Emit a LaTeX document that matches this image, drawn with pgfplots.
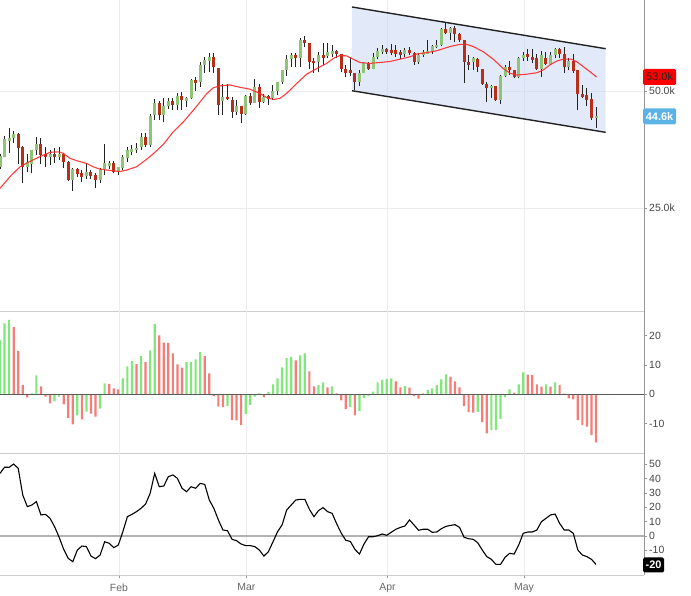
\documentclass[border=0pt]{standalone}
\usepackage{pgfplots}
\pgfplotsset{compat=1.18}
\usepackage{pgfplotstable}
\usepackage{fontspec}
\setmainfont{Liberation Sans}
\definecolor{cgreen}{RGB}{143,196,118}
\definecolor{cred}{RGB}{185,45,25}
\definecolor{wick}{RGB}{34,34,34}
\definecolor{hgreen}{RGB}{128,232,122}
\definecolor{hred}{RGB}{246,124,120}
\definecolor{gridc}{RGB}{236,236,236}
\definecolor{sepc}{RGB}{204,204,204}
\definecolor{raxis}{RGB}{150,150,150}
\definecolor{tlabel}{RGB}{68,68,68}
\definecolor{chan}{RGB}{198,214,244}
\definecolor{tagblue}{RGB}{91,178,228}
\definecolor{mared}{RGB}{255,40,40}

\pgfplotstableread{
i o h l c
0 33.8 36.5 33.4 36.2
1 36.0 40.4 35.8 39.7
2 39.4 42.2 36.7 40.0
3 39.9 41.5 38.8 40.9
6 33.8 36.5 32.6 34.8
7 34.5 37.4 32.4 37.3
8 37.3 40.1 36.3 38.7
11 36.0 37.3 34.2 36.6
13 36.0 38.0 35.2 36.6
16 31.0 33.6 28.7 33.3
19 31.8 34.7 31.3 32.7
22 31.0 33.6 30.3 33.3
23 33.3 38.6 32.0 34.6
24 34.0 35.0 33.3 34.6
26 32.6 33.8 32.0 33.7
27 33.6 36.3 33.2 35.8
28 35.6 38.0 34.9 37.4
29 36.9 38.5 36.3 37.6
30 37.3 38.8 36.8 37.9
31 38.1 41.0 37.4 40.2
33 38.5 45.0 38.0 44.7
34 44.9 48.3 43.8 47.4
36 44.9 48.4 43.3 46.9
37 46.8 48.5 46.2 47.9
39 47.0 49.5 45.9 48.9
41 47.9 48.8 46.5 48.5
42 48.6 52.6 48.3 52.4
44 52.0 56.3 50.9 55.6
45 55.6 57.3 53.8 56.6
46 56.5 58.2 54.0 57.3
49 47.9 51.6 44.9 48.7
52 45.6 48.1 44.9 46.8
54 45.1 49.1 44.9 48.9
56 47.5 52.5 47.4 50.8
58 47.7 49.3 47.4 48.8
60 48.4 51.3 48.1 50.1
61 50.1 52.0 49.1 52.0
62 52.0 54.5 51.6 54.4
63 54.4 57.7 53.1 56.8
64 56.8 58.1 55.2 57.7
66 57.0 61.3 55.2 61.0
70 56.3 58.4 54.1 57.7
72 57.5 60.2 57.0 58.4
73 57.8 59.8 57.3 58.6
79 52.0 54.5 51.1 53.9
80 53.9 56.3 53.8 55.9
82 54.8 58.2 54.6 57.2
83 57.2 59.1 56.8 58.6
84 58.4 59.8 58.0 59.0
89 57.9 59.1 57.2 58.8
92 56.3 58.1 55.8 57.7
93 57.7 58.8 57.3 58.4
94 58.0 60.9 57.9 58.6
95 58.5 59.8 58.0 59.6
96 59.3 61.0 59.1 59.8
97 59.8 63.4 59.6 63.2
99 62.3 63.6 60.9 63.5
104 56.3 57.3 54.5 57.0
108 50.6 51.3 48.6 51.1
110 48.1 53.4 47.2 53.2
111 53.2 55.6 52.9 55.2
114 52.9 57.3 52.7 57.0
115 57.0 58.4 56.5 57.7
119 54.8 58.6 52.9 57.7
121 55.8 58.4 55.6 57.7
122 57.7 59.1 57.0 58.9
125 55.2 57.0 54.4 56.4
131 44.2 46.5 42.2 44.6
}\upc

\pgfplotstableread{
i o h l c
4 40.9 41.0 34.5 37.9
5 38.1 38.2 30.3 33.8
9 38.7 40.0 34.5 36.3
10 36.5 38.0 33.8 35.8
12 36.6 37.8 34.7 36.0
14 36.5 36.8 33.5 34.9
15 34.9 35.0 30.8 31.0
17 33.3 33.6 31.7 32.3
18 32.4 33.1 30.6 31.7
20 32.7 33.1 31.1 31.8
21 32.1 32.4 29.2 31.0
25 34.6 35.0 32.4 32.6
32 40.2 41.0 38.0 38.5
35 47.4 47.8 43.8 44.9
38 47.9 48.6 45.9 47.0
40 48.9 49.8 45.9 48.1
43 52.4 53.0 50.1 51.8
47 57.2 58.1 53.8 55.1
48 54.9 54.9 44.9 47.0
50 48.7 51.6 48.0 48.2
51 48.1 48.8 44.2 45.6
53 46.8 46.8 43.1 45.1
55 48.9 49.5 47.0 47.5
57 50.8 51.6 46.3 47.7
59 48.9 49.1 47.0 48.2
65 57.7 58.1 55.2 57.0
67 61.0 61.8 59.3 60.2
68 60.2 60.2 54.6 56.3
69 56.5 57.0 53.8 55.9
71 57.7 60.2 55.5 57.0
74 58.6 58.8 57.0 57.8
75 57.8 57.8 54.1 54.6
76 54.6 55.5 52.9 53.9
77 54.5 57.0 53.1 53.9
78 53.9 53.9 50.2 52.0
81 55.9 56.3 54.5 54.7
85 59.0 59.1 58.0 58.4
86 58.8 60.0 57.7 58.1
87 58.8 59.8 57.3 57.9
88 58.3 58.8 56.8 57.7
90 58.8 59.5 57.7 58.2
91 58.2 58.4 55.6 56.3
98 63.2 64.6 62.1 62.3
100 63.5 63.8 60.5 62.1
101 62.1 62.3 60.5 60.8
102 60.9 60.9 51.8 56.3
103 56.3 57.7 54.5 55.6
105 56.8 57.0 54.1 55.2
106 54.8 54.8 51.3 51.6
107 51.5 52.0 47.7 50.6
109 51.1 51.1 47.9 48.1
112 55.2 56.4 53.4 54.4
113 54.5 54.5 52.7 52.9
116 57.9 58.9 56.5 57.2
117 57.2 58.9 55.9 56.6
118 57.0 57.9 54.5 54.8
120 57.0 58.4 55.6 55.8
123 58.9 59.1 57.0 58.0
124 58.0 59.5 53.8 55.2
126 56.4 57.8 53.9 54.3
127 54.5 54.5 45.9 49.3
128 49.4 51.3 48.4 48.8
129 49.2 50.6 46.8 48.1
130 48.2 49.6 43.9 44.2
}\dnc

\pgfplotstableread{
x y
0 29.2
2.2 31.7
4.4 33.8
5.5 34.4
7.3 35.3
9.5 36.3
11.0 36.9
12.8 37.0
13.9 36.7
15.4 35.6
16.9 35.1
19.1 34.5
20.5 33.8
22.0 33.3
23.5 33.1
25.3 32.9
26.4 32.8
27.8 33.1
30.0 33.8
32.2 35.4
33.7 36.6
35.9 38.6
38.1 41.3
40.3 43.4
42.5 45.9
44.0 47.7
45.4 49.4
46.9 50.7
48.4 51.1
50.5 51.3
52.7 50.8
54.9 50.4
57.1 49.5
58.6 48.6
60.1 48.2
61.5 48.4
63.0 49.5
65.2 51.6
67.4 53.6
69.6 54.8
71.8 55.9
73.3 57.0
74.7 57.6
76.2 57.5
77.6 56.8
79.1 56.1
81.3 55.9
83.5 56.1
85.7 56.3
87.9 56.8
90.1 57.3
91.6 57.9
93.8 58.2
96.0 58.6
98.9 59.5
101.1 59.97
102.6 59.97
104.0 59.5
106.2 58.4
108.4 56.8
110.6 54.8
112.1 53.8
113.6 53.4
115.8 53.6
118.0 53.9
119.4 54.5
120.9 55.6
122.4 56.4
123.8 56.8
125.6 56.8
126.7 56.3
128.2 55.2
129.7 54.1
131.1 53.0
}\ma

\pgfplotstableread{
i v
0 18.5
1 24.2
2 25.4
7 0.3
8 6.5
12 -2.4
13 -0.8
17 -7.2
19 -5.9
22 -4.9
23 3.7
27 5.4
28 9.5
29 11.3
31 13.0
33 15.0
34 24.0
41 11.0
42 11.1
43 11.9
44 14.4
50 -4.0
54 -6.7
55 -3.6
56 -0.8
57 0.3
59 0.8
60 3.4
61 5.4
62 9.2
63 12.3
64 12.8
66 13.3
67 14.0
70 3.1
71 4.1
73 2.7
77 -4.3
79 -5.7
80 -1.3
81 -0.5
82 0.9
83 4.1
84 4.9
85 5.3
86 5.4
89 2.8
93 0.3
94 1.5
95 2.0
96 3.1
97 5.1
98 6.8
105 -6.0
108 -12.2
109 -12.1
110 -8.4
111 -1.0
112 1.7
114 3.4
115 7.5
120 3.4
122 4.1
}\hup

\pgfplotstableread{
i v
3 22.9
4 14.8
5 3.1
6 -1.0
9 2.7
10 -0.8
11 -3.1
14 -3.4
15 -8.0
16 -10.2
18 -8.5
20 -6.6
21 -7.6
24 3.6
25 2.0
26 1.7
30 10.3
32 11.0
35 20.1
36 17.6
37 17.5
38 14.0
39 10.2
40 9.1
45 13.0
46 7.1
47 -0.6
48 -4.2
49 -4.4
51 -8.8
52 -8.9
53 -10.5
58 -1.0
65 11.6
68 7.8
69 2.7
72 2.4
74 0.3
75 -2.1
76 -5.0
78 -7.2
87 4.4
88 2.4
90 2.3
91 -0.6
92 -1.5
99 6.0
100 4.4
101 2.4
102 -4.0
103 -6.1
104 -6.2
106 -9.5
107 -13.3
113 0.6
116 6.7
117 6.6
118 3.4
119 2.6
121 2.6
123 3.1
124 0.2
125 -1.4
126 -1.7
127 -8.8
128 -10.5
129 -11.0
130 -13.9
131 -16.4
}\hdn

\pgfplotstableread{
i v
0 43.7
1 48.0
2 47.9
3 50.2
4 47.2
5 28.6
6 20.5
7 21.6
8 24.0
9 14.7
10 15.1
11 12.3
12 6.5
13 -0.9
14 -9.3
15 -15.6
16 -17.9
17 -9.8
18 -7.0
19 -7.4
20 -14.0
21 -15.8
22 -13.3
23 -4.0
24 -5.1
25 -8.1
26 -6.3
27 3.0
28 13.5
29 15.1
30 17.0
31 19.3
32 22.3
33 29.8
34 43.7
35 34.4
36 34.9
37 41.4
38 42.6
39 40.2
40 33.3
41 30.9
42 34.4
43 33.3
44 36.7
45 36.0
46 25.1
47 19.3
48 11.2
49 4.2
50 3.7
51 -2.3
52 -3.3
53 -5.6
54 -6.7
55 -6.7
56 -7.4
57 -9.8
58 -14.0
59 -10.9
60 -4.0
61 3.0
62 7.7
63 18.1
64 21.6
65 25.1
66 25.6
67 25.6
68 18.6
69 13.5
70 17.7
71 19.8
72 17.0
73 15.8
74 8.5
75 2.0
76 -3.0
77 -3.8
78 -9.3
79 -12.6
80 -5.6
81 -0.5
82 -0.5
83 0.2
84 1.4
85 0.5
86 2.6
87 4.7
88 6.0
89 7.0
90 11.2
91 7.7
92 4.0
93 4.7
94 4.7
95 2.6
96 2.8
97 5.1
98 6.7
99 7.4
100 7.9
101 6.0
102 -0.9
103 -1.9
104 -2.3
105 -4.7
106 -9.8
107 -14.4
108 -16.3
109 -19.8
110 -19.8
111 -14.9
112 -12.1
113 -12.6
114 -6.3
115 1.9
116 2.8
117 2.8
118 4.2
119 10.0
120 12.3
121 14.7
122 15.3
123 8.8
124 4.2
125 4.2
126 1.9
127 -9.8
128 -13.3
129 -14.4
130 -16.3
131 -19.8
}\osc

\tikzset{
  tag/.style={font=\fontsize{11}{12}\selectfont, inner xsep=2bp, inner ysep=0bp,
    minimum height=16bp, anchor=west, rounded corners=1.5bp},
}
\pgfplotsset{
  panel/.style={
    scale only axis, width=644bp, xmin=0, xmax=141.54,
    axis x line*=bottom, axis y line*=right,
    x axis line style={-, draw=sepc, line width=1bp},
    y axis line style={-, draw=raxis, line width=1bp},
    xtick={26.15,54.15,85.15,115.15},
    xmajorgrids, major grid style={draw=gridc, line width=0.8bp},
    tick align=outside, major tick length=3bp,
    ytick style={draw=raxis, line width=0.8bp},
    tick label style={font=\fontsize{10.5}{12}\selectfont, text=tlabel},
    yticklabel style={inner sep=2bp},
    clip mode=individual,
    anchor=north west,
  },
  wicks/.style={draw=none, mark=none, error bars/.cd, y dir=plus, y explicit,
    error mark=none, error bar style={draw=wick, line width=1bp}},
  bodies/.style={draw=none, mark=none, error bars/.cd, y dir=plus, y explicit,
    error mark=none, error bar style={draw=#1, line width=3bp}},
}

\begin{document}
\begin{tikzpicture}
\path[use as bounding box] (0,0) rectangle (691bp,-596bp);

% ---------- price panel ----------
\begin{axis}[panel, at={(0,0)}, height=311bp, ymin=2.99, ymax=69.445,
  ytick={25,50}, yticklabels={25.0k,50.0k}, ymajorgrids,
  xticklabels={}, xtick style={draw=none}]
\addplot[fill=chan, fill opacity=0.5, draw=none]
  coordinates {(77.36,67.95) (133.12,59.04) (133.12,41.17) (77.36,50.06)} -- cycle;
\addplot[wick, line width=1.4bp] coordinates {(77.36,67.95) (133.12,59.04)};
\addplot[wick, line width=1.4bp] coordinates {(77.36,50.06) (133.12,41.17)};
\addplot[wicks] table[x=i, y=l, y error expr=\thisrow{h}-\thisrow{l}] {\upc};
\addplot[wicks] table[x=i, y=l, y error expr=\thisrow{h}-\thisrow{l}] {\dnc};
\addplot[bodies=cgreen] table[x=i, y=o, y error expr=\thisrow{c}-\thisrow{o}] {\upc};
\addplot[bodies=cred] table[x=i, y=c, y error expr=\thisrow{o}-\thisrow{c}] {\dnc};
\addplot[mared, line width=1.1bp, opacity=0.9] table[x=x, y=y] {\ma};
\node[tag, fill=red, text=black!85, minimum width=33bp] at (axis cs:141.3,53.0) {53.0k};
\node[tag, fill=tagblue, text=white, minimum width=33bp, font=\fontsize{11}{12}\selectfont\bfseries] at (axis cs:141.3,44.6) {44.6k};
\end{axis}

% ---------- histogram panel ----------
\begin{axis}[panel, at={(0,-311bp)}, height=142bp, ymin=-20.0, ymax=28.4,
  ytick={-10,0,10,20}, yticklabels={-10,0,10,20},
  xticklabels={}, xtick style={draw=none}]
\addplot[ybar, bar width=2.2bp, bar shift=0pt, fill=hgreen, draw=none] table[x=i, y=v] {\hup};
\addplot[ybar, bar width=2.2bp, bar shift=0pt, fill=hred, draw=none] table[x=i, y=v] {\hdn};
\addplot[black!65, line width=1bp] coordinates {(0,0) (141.54,0)};
\end{axis}

% ---------- oscillator panel ----------
\begin{axis}[panel, at={(0,-453bp)}, height=122bp, ymin=-27.2, ymax=57.9,
  ytick={-10,0,10,20,30,40,50}, yticklabels={-10,0,10,20,30,40,50},
  xticklabels={Feb,Mar,Apr,May}, xtick style={draw=raxis, line width=0.8bp},
  xticklabel style={text=black!60, yshift=-2bp}]
\addplot[black!30, line width=2bp] coordinates {(0,0) (141.54,0)};
\addplot[black, line width=1.1bp] table[x=i, y=v] {\osc};
\node[tag, fill=black, text=white, minimum width=21bp, minimum height=15bp, font=\fontsize{11}{12}\selectfont\bfseries] at (axis cs:141.3,-20.2) {-20};
\end{axis}
\end{tikzpicture}
\end{document}
